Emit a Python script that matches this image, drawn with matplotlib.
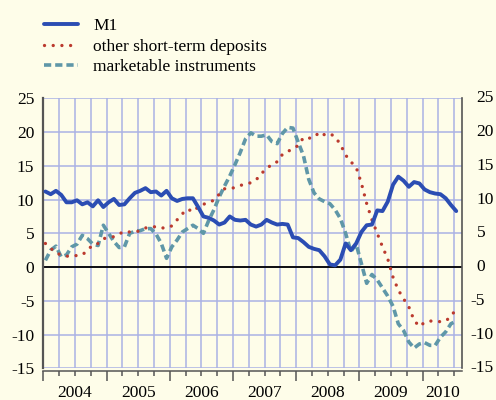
import numpy as np
import matplotlib.pyplot as plt
from matplotlib.ticker import MultipleLocator
import matplotlib.transforms as mtransforms

# monthly growth rates, Jan 2004 - Jul 2010 (percent)
m1 = [11.2, 10.8, 11.3, 10.7, 9.6, 9.6, 9.9, 9.3, 9.6, 9.0, 9.9, 8.9,
      9.6, 10.1, 9.2, 9.3, 10.2, 11.0, 11.3, 11.7, 11.1, 11.2, 10.6, 11.3,
      10.2, 9.8, 10.1, 10.2, 10.2, 8.9, 7.5, 7.3, 6.9, 6.3, 6.6, 7.5,
      7.0, 6.9, 7.0, 6.3, 6.0, 6.3, 7.0, 6.6, 6.3, 6.4, 6.3, 4.4,
      4.3, 3.7, 3.0, 2.7, 2.5, 1.6, 0.4, 0.25, 1.1, 3.5, 2.5, 3.5,
      5.2, 6.2, 6.3, 8.4, 8.3, 9.7, 12.2, 13.4, 12.8, 11.9, 12.6, 12.4,
      11.5, 11.1, 10.9, 10.8, 10.2, 9.2, 8.3]
other_st = [3.5, 2.8, 2.1, 1.8, 1.6, 1.7, 1.7, 1.8, 2.5, 3.3, 3.5, 4.2,
            4.4, 4.5, 4.9, 5.3, 5.2, 5.2, 5.4, 5.8, 5.9, 6.0, 5.8, 5.8,
            6.1, 7.0, 7.9, 8.6, 8.2, 8.9, 9.3, 9.6, 9.9, 10.8, 11.6, 11.6,
            11.8, 12.1, 12.3, 12.5, 12.9, 13.9, 14.5, 15.3, 15.6, 16.7, 17.1, 17.6,
            18.0, 19.2, 19.1, 19.2, 20.0, 19.6, 19.8, 19.3, 18.2, 16.6, 15.6, 14.8,
            12.4, 9.4, 7.0, 5.0, 3.0, 1.2, -1.5, -3.4, -4.7, -5.9, -7.9, -8.8,
            -8.2, -8.0, -8.0, -8.1, -8.0, -7.3, -6.2]
marketable = [1.0, 2.5, 3.1, 1.5, 1.8, 3.0, 3.4, 4.7, 4.2, 3.4, 3.2, 6.2,
              5.0, 3.8, 2.9, 3.0, 5.0, 5.3, 5.4, 5.7, 5.7, 4.9, 3.5, 1.3,
              3.0, 4.0, 5.2, 5.7, 6.2, 5.7, 5.0, 6.9, 8.5, 10.4, 12.0, 13.5,
              15.2, 17.0, 19.0, 19.9, 19.4, 19.4, 19.6, 18.6, 18.3, 19.8, 20.7, 20.6,
              18.5, 16.5, 13.0, 11.0, 10.1, 9.7, 9.4, 8.5, 7.2, 5.0, 2.3, 3.4,
              0.5, -2.4, -1.1, -1.9, -3.1, -4.3, -5.8, -8.4, -9.4, -11.1, -12.0, -11.4,
              -11.2, -11.6, -11.6, -10.4, -9.6, -8.4, -8.0]
years = [2004, 2005, 2006, 2007, 2008, 2009, 2010]
y_ticks = [-15, -10, -5, 0, 5, 10, 15, 20, 25]
y_labels = ['-15', '-10', '-5', '0', '5', '10', '15', '20', '25']

t = 2004 + (np.arange(len(m1)) + 0.4) / 12.0
x_min, x_max = 2004.0, 2010.625

bg = '#fefde9'
grid_col = '#aab2e4'
spine_col = '#555555'
plt.rcParams['font.family'] = ['Liberation Serif', 'DejaVu Serif']

fig = plt.figure(figsize=(4.96, 4.0), dpi=100, facecolor=bg)
ax = fig.add_axes([0.0873, 0.0793, 0.9315 - 0.0873, 0.754 - 0.0793])
ax.set_facecolor(bg)

ax.plot(t, m1, color='#2b4db3', lw=2.8, solid_capstyle='round', zorder=5,
        label='M1')
ax.plot(t, other_st, color='#bb3a2e', lw=2.4, dashes=(0.01, 2.6),
        dash_capstyle='round', zorder=4, label='other short-term deposits')
ax.plot(t, marketable, color='#5f97a8', lw=2.6, dashes=(2.0, 1.1),
        zorder=3, label='marketable instruments')

ax.axhline(0, color='black', lw=1.3, zorder=2)

ax.set_xlim(x_min, x_max)
ax.set_ylim(-15, 25)
ax.xaxis.set_major_locator(MultipleLocator(1))
ax.xaxis.set_minor_locator(MultipleLocator(0.25))
ax.set_xticklabels([])
ax.grid(True, which='both', axis='x', color=grid_col, lw=1.1, zorder=0)
ax.set_yticks(y_ticks)
ax.set_yticklabels(y_labels)
ax.grid(True, which='major', axis='y', color=grid_col, lw=1.1, zorder=0)

ax.tick_params(axis='x', which='major', direction='out', length=7.5,
               width=1.1, color=spine_col)
ax.tick_params(axis='x', which='minor', direction='out', length=3.8,
               width=1.1, color=spine_col)
ax.tick_params(axis='y', length=0, labelsize=12.5, pad=6.5)

for s in ['left', 'right', 'bottom']:
    ax.spines[s].set_color(spine_col)
ax.spines['left'].set_linewidth(1.6)
ax.spines['right'].set_linewidth(1.2)
ax.spines['bottom'].set_linewidth(1.1)
ax.spines['bottom'].set_position(('outward', 2))
ax.spines['top'].set_visible(False)

# right-hand scale: digits aligned, minus sign hanging to the left
ytrans = mtransforms.blended_transform_factory(ax.transAxes, ax.transData)
for v, lab in zip(y_ticks, y_labels):
    dx = 8.0 if lab.startswith('-') else 14.7
    off = mtransforms.ScaledTranslation(dx / 100, 0, fig.dpi_scale_trans)
    ax.text(1.0, v, lab, transform=ytrans + off, ha='left', va='center',
            fontsize=12.5)

trans = mtransforms.blended_transform_factory(ax.transData, ax.transAxes)
for yr in years:
    xc = (yr + min(yr + 1, x_max)) / 2
    ax.text(xc, -0.093, str(yr), transform=trans, ha='center', va='center',
            fontsize=12.5)

fig.legend(loc='upper left', bbox_to_anchor=(0.064, 0.985), frameon=False,
           fontsize=12.5, handlelength=1.95, handletextpad=0.9,
           labelspacing=0.24, borderpad=0.2)

fig.savefig('out.png', dpi=100, facecolor=bg)
